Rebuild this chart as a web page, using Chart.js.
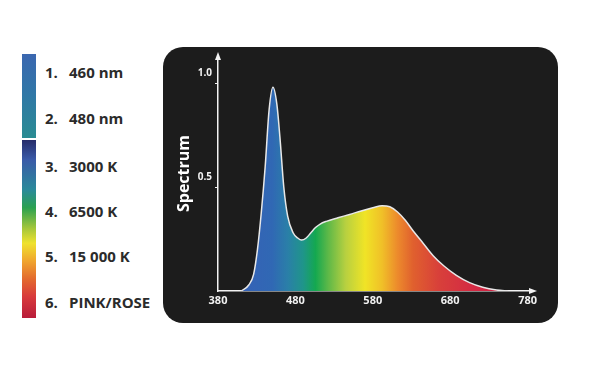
<!DOCTYPE html>
<html>
<head>
<meta charset="utf-8">
<script src="https://cdn.jsdelivr.net/npm/chart.js@4.4.0/dist/chart.umd.min.js"></script>
<style>
  body { margin: 0; background: #fff; width: 600px; height: 367px; position: relative; overflow: hidden; font-family: "Open Sans", sans-serif; }
  #barTop { position: absolute; left: 22px; top: 54px; width: 14px; height: 84px;
    background: linear-gradient(#3b67b0, #2f78a6 50%, #2a8c92); }
  #barBottom { position: absolute; left: 22px; top: 140px; width: 14px; height: 178px;
    background: linear-gradient(#262c6a, #3a5aa8 11%, #2a8a9a 28%, #2aa150 38%, #a8c83a 50%, #efe22e 58%, #f0a52e 68%, #e36a2e 78%, #d83a3c 88%, #b81c3a); }
  .item { position: absolute; left: 45px; font-size: 15px; font-weight: 700; color: #2b2b2b; line-height: 18px; white-space: nowrap; }
  .item span { position: absolute; left: 24px; }
  #box { position: absolute; left: 163px; top: 47px; width: 395px; height: 276px; background: #1c1c1c; border-radius: 20px; }
</style>
</head>
<body>
<div id="barTop"></div>
<div id="barBottom"></div>
<div id="legend"></div>
<div id="box"><canvas id="myChartCanvas" width="395" height="276"></canvas></div>
<script>
// legend entries on the left
let legendNumbers = ['1.', '2.', '3.', '4.', '5.', '6.'];
let legendNames = ['460 nm', '480 nm', '3000 K', '6500 K', '15 000 K', 'PINK/ROSE'];

// spectrum curve: wavelength (nm) and relative intensity
let wavelengths = [410, 420, 426, 431, 436, 441, 446, 451, 456, 460, 465, 470, 477, 483, 488, 494,
    500, 506, 512, 520, 535, 550, 565, 580, 592, 602, 612, 622, 632, 645, 658, 672, 688, 705, 722, 740, 755];
let intensity = [0, 0.03, 0.08, 0.2, 0.38, 0.6, 0.87, 0.98, 0.9, 0.74, 0.5, 0.36, 0.28, 0.255, 0.245, 0.255,
    0.28, 0.305, 0.322, 0.335, 0.352, 0.368, 0.385, 0.4, 0.41, 0.405, 0.38, 0.34, 0.29, 0.23, 0.17, 0.12, 0.075, 0.04, 0.018, 0.005, 0];

let xTicks = [380, 480, 580, 680, 780];
let yTicks = [0.5, 1.0];
let yTickLabels = ['0.5', '1.0'];

const legendTops = [63, 109, 157, 202, 247, 293];
legendNumbers.forEach(function (num, i) {
    let div = document.createElement('div');
    div.className = 'item';
    div.style.top = legendTops[i] + 'px';
    div.innerHTML = num + '<span>' + legendNames[i] + '</span>';
    document.getElementById('legend').appendChild(div);
});

const spectrumStops = [
    [380, '#3a5cb8'], [450, '#3068b4'], [470, '#2a7fa8'], [490, '#1f958a'], [506, '#14a850'],
    [522, '#5cb848'], [545, '#b8d040'], [570, '#f0e426'], [592, '#f0c028'], [612, '#ec8a2c'],
    [632, '#e0602e'], [665, '#d8403a'], [710, '#d42a44'], [780, '#c81e44']
];

const points = wavelengths.map(function (w, i) { return { x: w, y: intensity[i] }; });

const arrows = {
    id: 'arrows',
    afterDraw: function (chart) {
        const c = chart.ctx;
        const a = chart.chartArea;
        c.save();
        c.fillStyle = '#f2f2f2';
        c.beginPath();
        c.moveTo(a.left, a.top - 4);
        c.lineTo(a.left - 3, a.top + 4);
        c.lineTo(a.left + 3, a.top + 4);
        c.fill();
        c.beginPath();
        c.moveTo(a.right + 4, a.bottom);
        c.lineTo(a.right - 4, a.bottom - 3);
        c.lineTo(a.right - 4, a.bottom + 3);
        c.fill();
        c.restore();
    }
};

let ctx = document.getElementById('myChartCanvas').getContext('2d');
let chart = new Chart(ctx, {
    type: 'line',
    data: {
        datasets: [{
            data: points,
            borderColor: '#e8e8e8',
            borderWidth: 1.5,
            pointRadius: 0,
            cubicInterpolationMode: 'monotone',
            fill: 'origin',
            backgroundColor: function (context) {
                const ch = context.chart;
                if (!ch.chartArea) return null;
                const xs = ch.scales.x;
                const x0 = xs.getPixelForValue(380), x1 = xs.getPixelForValue(780);
                const g = ch.ctx.createLinearGradient(x0, 0, x1, 0);
                spectrumStops.forEach(function (s) { g.addColorStop((s[0] - 380) / 400, s[1]); });
                return g;
            }
        }]
    },
    options: {
        responsive: false,
        animation: false,
        devicePixelRatio: 1,
        layout: { padding: { top: 9, right: 25, left: 0, bottom: 0 } },
        plugins: { legend: { display: false }, tooltip: { enabled: false } },
        scales: {
            x: {
                type: 'linear',
                min: 380,
                max: 787,
                afterBuildTicks: function (scale) { scale.ticks = xTicks.map(function (v) { return { value: v }; }); },
                afterFit: function (scale) { scale.height = 32; },
                border: { color: '#f2f2f2', width: 1.5 },
                grid: { display: false, drawTicks: false },
                ticks: { color: '#f2f2f2', padding: 3, maxRotation: 0, font: { family: 'Open Sans', size: 11, weight: '700' } }
            },
            y: {
                min: 0,
                max: 1.13,
                afterBuildTicks: function (scale) { scale.ticks = yTicks.map(function (v) { return { value: v }; }); },
                afterFit: function (scale) { scale.width = 55; },
                border: { color: '#f2f2f2', width: 1.5 },
                grid: { drawOnChartArea: false, color: '#f2f2f2', tickLength: 3 },
                ticks: {
                    color: '#f2f2f2', padding: 3, labelOffset: -10,
                    font: { family: 'Open Sans', size: 10, weight: '700' },
                    callback: function (value) { return yTickLabels[yTicks.indexOf(value)]; }
                },
                title: {
                    display: true, text: 'Spectrum', color: '#ffffff',
                    padding: { top: 12, bottom: 0 },
                    font: { family: 'Open Sans', size: 16, weight: '700' }
                }
            }
        }
    },
    plugins: [arrows]
});
</script>
</body>
</html>
